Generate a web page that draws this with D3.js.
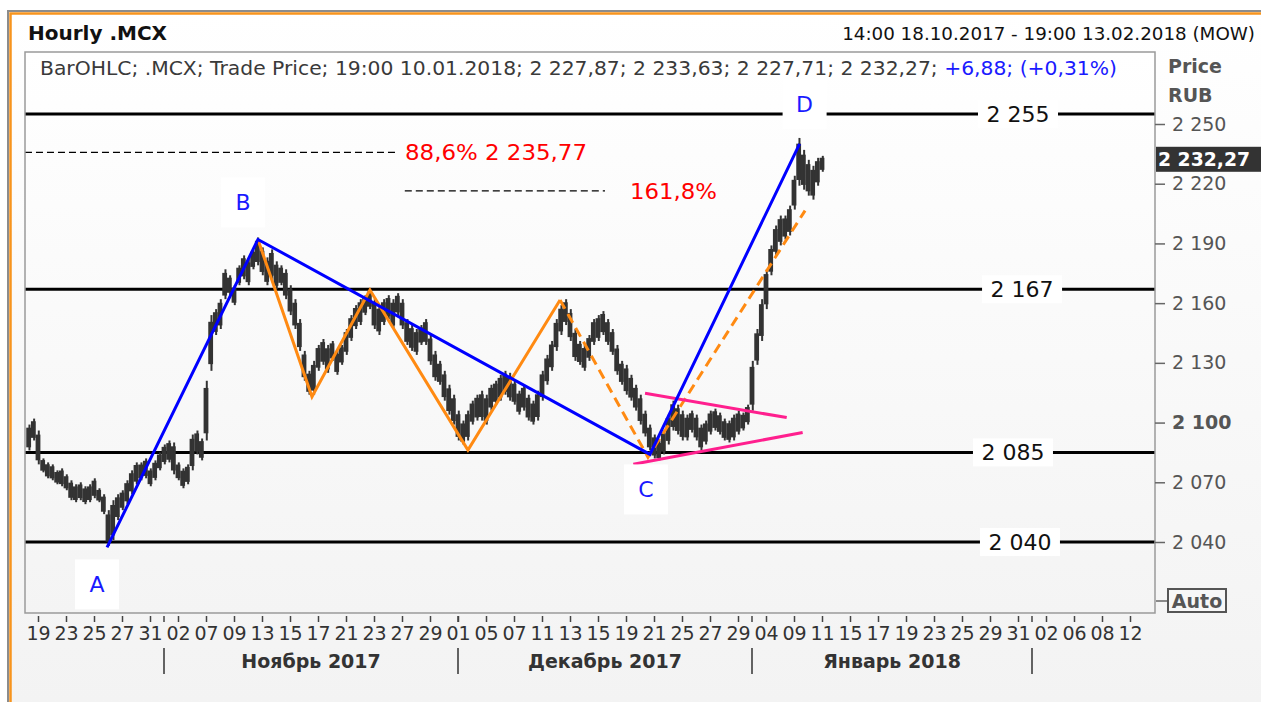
<!DOCTYPE html>
<html>
<head>
<meta charset="utf-8">
<script src="https://cdn.jsdelivr.net/npm/d3@7"></script>
<style>
body { margin: 0; background: #fff; }
svg { display: block; }
text { font-family: Tahoma, "DejaVu Sans", sans-serif; }
</style>
</head>
<body>
<div id="chart-area"></div>
<script>
// x positions are in trading days, 0 = 19.10.2017
var dayTickLabels = ["19","23","25","27","31","02","07","09","13","15","17","21","23","27","29",
                     "01","05","07","11","13","15","19","21","25","27","29",
                     "04","09","11","15","17","19","23","25","29","31","02","06","08","12"];
var monthNames = ["Ноябрь 2017", "Декабрь 2017", "Январь 2018"];
var monthStarts = [9, 30, 51, 71];

// price bars, one every third of a trading day from 18.10.2017 afternoon
var barStart = -0.667;
var barLow = [2086,2091,2079,2075,2072,2071,2069,2068,2066,2061,2060,2061,2059,2060,2062,2060,2054,2038,2041,2051,
              2056,2059,2064,2069,2071,2072,2068,2071,2076,2079,2080,2074,2071,2067,2069,2076,2084,2081,2091,2126,
              2144,2147,2162,2164,2159,2169,2172,2169,2177,2179,2174,2169,2172,2167,2169,2162,2154,2147,2136,2121,
              2114,2114,2126,2129,2125,2131,2124,2129,2134,2141,2147,2149,2154,2157,2147,2144,2149,2152,2147,2154,
              2147,2139,2136,2134,2139,2139,2129,2121,2119,2111,2104,2099,2091,2089,2091,2099,2101,2101,2099,2106,
              2109,2111,2114,2111,2109,2104,2106,2101,2099,2101,2111,2119,2126,2136,2144,2149,2141,2131,2129,2126,
              2131,2139,2141,2144,2139,2134,2124,2119,2114,2111,2106,2099,2093,2086,2082,2081,2084,2089,2096,2094,
              2091,2091,2095,2091,2086,2089,2094,2096,2094,2091,2090,2091,2094,2096,2099,2106,2129,2141,2157,2174,
              2184,2189,2192,2194,2207,2219,2217,2214,2212,2219,2226];
var barHigh = [2099,2102,2096,2082,2080,2079,2076,2077,2074,2071,2069,2070,2068,2069,2072,2067,2064,2056,2061,2064,
               2066,2071,2076,2080,2080,2082,2077,2081,2085,2089,2091,2090,2080,2077,2079,2094,2096,2092,2121,2154,
               2157,2162,2177,2174,2169,2179,2184,2182,2187,2193,2188,2183,2187,2181,2179,2177,2169,2162,2152,2136,
               2126,2131,2139,2142,2139,2141,2136,2139,2147,2154,2159,2162,2164,2167,2162,2159,2162,2164,2162,2165,
               2162,2152,2149,2147,2149,2152,2144,2136,2131,2126,2119,2114,2106,2101,2106,2111,2114,2116,2114,2119,
               2121,2124,2126,2125,2121,2116,2119,2114,2111,2116,2126,2134,2141,2152,2159,2162,2157,2147,2141,2139,
               2144,2152,2154,2156,2152,2147,2139,2131,2129,2124,2119,2114,2106,2099,2094,2091,2096,2104,2111,2109,
               2106,2104,2106,2104,2099,2101,2106,2107,2105,2102,2101,2104,2106,2105,2109,2131,2147,2162,2177,2189,
               2199,2204,2204,2209,2224,2243,2237,2232,2229,2233,2234];

var priceTicks = [2040, 2070, 2100, 2130, 2160, 2190, 2220, 2250];
var lastPrice = 2232.27;

var levels = [2255, 2167, 2085, 2040];
var fibLevels = [2235.77, 2216.4];
var fibSpans = [[-0.93, 25.7], [26.2, 40.5]];
var fibLabels = ["88,6% 2 235,77", "161,8%"];

var waveNames = ["A", "B", "C", "D"];
var waveBlue = [[4.93, 2037.3], [15.71, 2192], [43.71, 2084], [54.4, 2240]];
var waveOrange = [[15.71, 2192], [19.57, 2113], [23.71, 2166.6], [30.71, 2086.2], [37.29, 2161.6]];
var waveOrangeDash = [[37.29, 2161.6], [43.57, 2082.6], [54.79, 2206.5]];
var triUpper = [[43.36, 2114.7], [53.48, 2102.5]];
var triLower = [[42.52, 2079.1], [54.62, 2095]];

var W = 1261, H = 702;
var plot = {left: 25, top: 52, right: 1155, bottom: 613};

var x = d3.scaleLinear().domain([0, 78]).range([38, 1130]);
var y = d3.scaleLinear().domain([2040, 2250]).range([542, 124]);
var fmt = function(v) { return d3.format(",")(v).replace(/,/g, " "); };

var svg = d3.select("#chart-area").append("svg")
            .attr("width", W).attr("height", H);
var defs = svg.append("defs");

var pg = defs.append("linearGradient").attr("id", "pageGrad")
             .attr("x1", 0).attr("y1", 0).attr("x2", 0).attr("y2", 1);
pg.append("stop").attr("offset", "0%").attr("stop-color", "#ffffff");
pg.append("stop").attr("offset", "100%").attr("stop-color", "#f3f3f3");
var ag = defs.append("linearGradient").attr("id", "plotGrad")
             .attr("x1", 0).attr("y1", 0).attr("x2", 0).attr("y2", 1);
ag.append("stop").attr("offset", "0%").attr("stop-color", "#ffffff");
ag.append("stop").attr("offset", "100%").attr("stop-color", "#f4f4f4");
defs.append("clipPath").attr("id", "clip").append("rect")
    .attr("x", plot.left).attr("y", plot.top)
    .attr("width", plot.right - plot.left).attr("height", plot.bottom - plot.top);

// window frame
svg.append("rect").attr("width", W).attr("height", H).attr("fill", "#fff");
svg.append("rect").attr("x", 8).attr("y", 11).attr("width", W - 8).attr("height", H - 11)
   .attr("fill", "url(#pageGrad)");
svg.append("path").attr("d", "M8," + H + "V11H" + W)
   .attr("fill", "none").attr("stroke", "#8c8c8c").attr("stroke-width", 2);
svg.append("path").attr("d", "M10.5," + H + "V13.5H" + W)
   .attr("fill", "none").attr("stroke", "#f7941d").attr("stroke-width", 2.5);

svg.append("text").attr("x", 28).attr("y", 40)
   .attr("font-size", "20px").attr("font-weight", "bold").attr("fill", "#111")
   .text("Hourly .MCX");
svg.append("text").attr("x", 1255).attr("y", 40).attr("text-anchor", "end")
   .attr("font-size", "18.3px").attr("fill", "#111")
   .text("14:00 18.10.2017 - 19:00 13.02.2018 (MOW)");

// plot area
svg.append("rect").attr("x", plot.left).attr("y", plot.top)
   .attr("width", plot.right - plot.left).attr("height", plot.bottom - plot.top)
   .attr("fill", "url(#plotGrad)");

var g = svg.append("g").attr("clip-path", "url(#clip)");

g.selectAll(".level").data(levels).enter().append("line")
 .attr("x1", plot.left).attr("x2", plot.right)
 .attr("y1", function(d) { return y(d); }).attr("y2", function(d) { return y(d); })
 .attr("stroke", "#000").attr("stroke-width", 3);

g.selectAll(".fib").data(fibLevels).enter().append("line")
 .attr("x1", function(d, i) { return x(fibSpans[i][0]); })
 .attr("x2", function(d, i) { return x(fibSpans[i][1]); })
 .attr("y1", function(d) { return y(d); }).attr("y2", function(d) { return y(d); })
 .attr("stroke", "#000").attr("stroke-width", 1.3).attr("stroke-dasharray", "7,4");

// dense hourly-looking bars: body plus a thin centre spike
g.selectAll(".bar").data(barHigh).enter().append("rect")
 .attr("x", function(d, i) { return x(barStart + i / 3) - 2.4; })
 .attr("width", 4.8)
 .attr("y", function(d, i) { return y(d) + (y(barLow[i]) - y(d)) * 0.12; })
 .attr("height", function(d, i) { return (y(barLow[i]) - y(d)) * 0.76; })
 .attr("fill", "#333");
g.selectAll(".wick").data(barHigh).enter().append("line")
 .attr("x1", function(d, i) { return x(barStart + i / 3) + 0.8; })
 .attr("x2", function(d, i) { return x(barStart + i / 3) + 0.8; })
 .attr("y1", function(d) { return y(d); })
 .attr("y2", function(d, i) { return y(barLow[i]); })
 .attr("stroke", "#333").attr("stroke-width", 2);

var line = d3.line().x(function(d) { return x(d[0]); }).y(function(d) { return y(d[1]); });

g.append("path").datum(waveOrange).attr("d", line)
 .attr("fill", "none").attr("stroke", "#ff8a12").attr("stroke-width", 3);
g.append("path").datum(waveOrangeDash).attr("d", line)
 .attr("fill", "none").attr("stroke", "#ff8a12").attr("stroke-width", 3)
 .attr("stroke-dasharray", "10,6");
g.append("path").datum(triUpper).attr("d", line)
 .attr("fill", "none").attr("stroke", "#ff1f8e").attr("stroke-width", 3);
g.append("path").datum(triLower).attr("d", line)
 .attr("fill", "none").attr("stroke", "#ff1f8e").attr("stroke-width", 3);
g.append("path").datum(waveBlue).attr("d", line)
 .attr("fill", "none").attr("stroke", "#0000ff").attr("stroke-width", 3);

// level labels on white boxes
var levelLabelDay = [70.0, 70.29, 69.64, 70.14];
levels.forEach(function(v, i) {
  var cx = x(levelLabelDay[i]);
  g.append("rect").attr("x", cx - 40).attr("y", y(v) - 14).attr("width", 80).attr("height", 28)
   .attr("fill", "#fff");
  g.append("text").attr("x", cx).attr("y", y(v) + 8).attr("text-anchor", "middle")
   .attr("font-size", "22px").attr("fill", "#111").text(fmt(v));
});

// wave point labels
var waveOffsets = [[-10, 37], [-15, -37], [-4, 35], [5, -40]];
waveNames.forEach(function(n, i) {
  var cx = x(waveBlue[i][0]) + waveOffsets[i][0];
  var cy = y(waveBlue[i][1]) + waveOffsets[i][1];
  g.append("rect").attr("x", cx - 22).attr("y", cy - 25).attr("width", 44).attr("height", 50)
   .attr("fill", "#fff");
  g.append("text").attr("x", cx).attr("y", cy + 8).attr("text-anchor", "middle")
   .attr("font-size", "22px").attr("fill", "#1a1aff").text(n);
});

var fibTextX = [405, 630];
var fibTextLen = [182, 87];
fibLabels.forEach(function(t, i) {
  g.append("text").attr("x", fibTextX[i]).attr("y", y(fibLevels[i]) + 8)
   .attr("font-size", "22px").attr("fill", "#ff0000")
   .attr("textLength", fibTextLen[i]).attr("lengthAdjust", "spacingAndGlyphs")
   .text(t);
});

var legend = svg.append("text").attr("x", 40).attr("y", 75)
                .attr("font-size", "19px").attr("fill", "#3a3a3a")
                .attr("textLength", 1077).attr("lengthAdjust", "spacingAndGlyphs");
legend.append("tspan").text("BarOHLC; .MCX; Trade Price; 19:00 10.01.2018; 2 227,87; 2 233,63; 2 227,71; 2 232,27; ");
legend.append("tspan").attr("fill", "#1a1aff").text("+6,88; (+0,31%)");

svg.append("rect").attr("x", plot.left).attr("y", plot.top)
   .attr("width", plot.right - plot.left).attr("height", plot.bottom - plot.top)
   .attr("fill", "none").attr("stroke", "#9a9a9a").attr("stroke-width", 1.5);

// price axis
var yAxis = svg.append("g").attr("transform", "translate(" + plot.right + ",0)")
               .call(d3.axisRight(y).tickValues(priceTicks).tickFormat(fmt).tickSize(10).tickPadding(7));
yAxis.select(".domain").remove();
yAxis.selectAll(".tick line").attr("stroke", "#666").attr("stroke-width", 1.5);
yAxis.selectAll(".tick text")
     .attr("font-size", "19px").attr("fill", "#555")
     .style("font-family", "Tahoma, 'DejaVu Sans', sans-serif")
     .attr("font-weight", function(d) { return d === 2100 ? "bold" : "normal"; });

svg.append("text").attr("x", 1168).attr("y", 73).attr("font-size", "19px")
   .attr("font-weight", "bold").attr("fill", "#555").text("Price");
svg.append("text").attr("x", 1168).attr("y", 102).attr("font-size", "19px")
   .attr("font-weight", "bold").attr("fill", "#555").text("RUB");

svg.append("rect").attr("x", 1156).attr("y", y(lastPrice) - 12.5).attr("width", W - 1156).attr("height", 25)
   .attr("fill", "#333");
svg.append("text").attr("x", 1158).attr("y", y(lastPrice) + 7).attr("font-size", "20px")
   .attr("font-weight", "bold").attr("fill", "#fff")
   .attr("textLength", 92).attr("lengthAdjust", "spacingAndGlyphs")
   .text(fmt(Math.floor(lastPrice)) + "," + d3.format("02")(Math.round((lastPrice % 1) * 100)));

svg.append("line").attr("x1", 1156).attr("x2", 1167).attr("y1", 601).attr("y2", 601)
   .attr("stroke", "#666").attr("stroke-width", 1.5);
svg.append("rect").attr("x", 1168).attr("y", 589).attr("width", 58).attr("height", 23)
   .attr("fill", "#f7f7f7").attr("stroke", "#555").attr("stroke-width", 2);
svg.append("text").attr("x", 1197).attr("y", 608).attr("text-anchor", "middle")
   .attr("font-size", "19px").attr("font-weight", "bold").attr("fill", "#555").text("Auto");

// time axis
var xAxis = svg.append("g").attr("transform", "translate(0," + (plot.bottom + 3) + ")")
               .call(d3.axisBottom(x).tickValues(d3.range(0, 79, 2))
                       .tickFormat(function(d, i) { return dayTickLabels[i]; })
                       .tickSize(6).tickPadding(4.5));
xAxis.select(".domain").remove();
xAxis.selectAll(".tick line").attr("stroke", "#444").attr("stroke-width", 1.5);
xAxis.selectAll(".tick text").attr("font-size", "19px").attr("fill", "#333")
     .style("font-family", "Tahoma, 'DejaVu Sans', sans-serif");

svg.selectAll(".mtick").data(monthStarts).enter().append("line")
   .attr("x1", function(d) { return x(d); }).attr("x2", function(d) { return x(d); })
   .attr("y1", plot.bottom + 3).attr("y2", plot.bottom + 9)
   .attr("stroke", "#444").attr("stroke-width", 1.5);
svg.selectAll(".msep").data(monthStarts).enter().append("line")
   .attr("x1", function(d) { return x(d); }).attr("x2", function(d) { return x(d); })
   .attr("y1", 648).attr("y2", 674)
   .attr("stroke", "#333").attr("stroke-width", 1.5);
svg.selectAll(".mlabel").data(monthNames).enter().append("text")
   .attr("x", function(d, i) { return (x(monthStarts[i]) + x(monthStarts[i + 1])) / 2; })
   .attr("y", 668).attr("text-anchor", "middle")
   .attr("font-size", "19px").attr("font-weight", "bold").attr("fill", "#333")
   .text(function(d) { return d; });
</script>
</body>
</html>
